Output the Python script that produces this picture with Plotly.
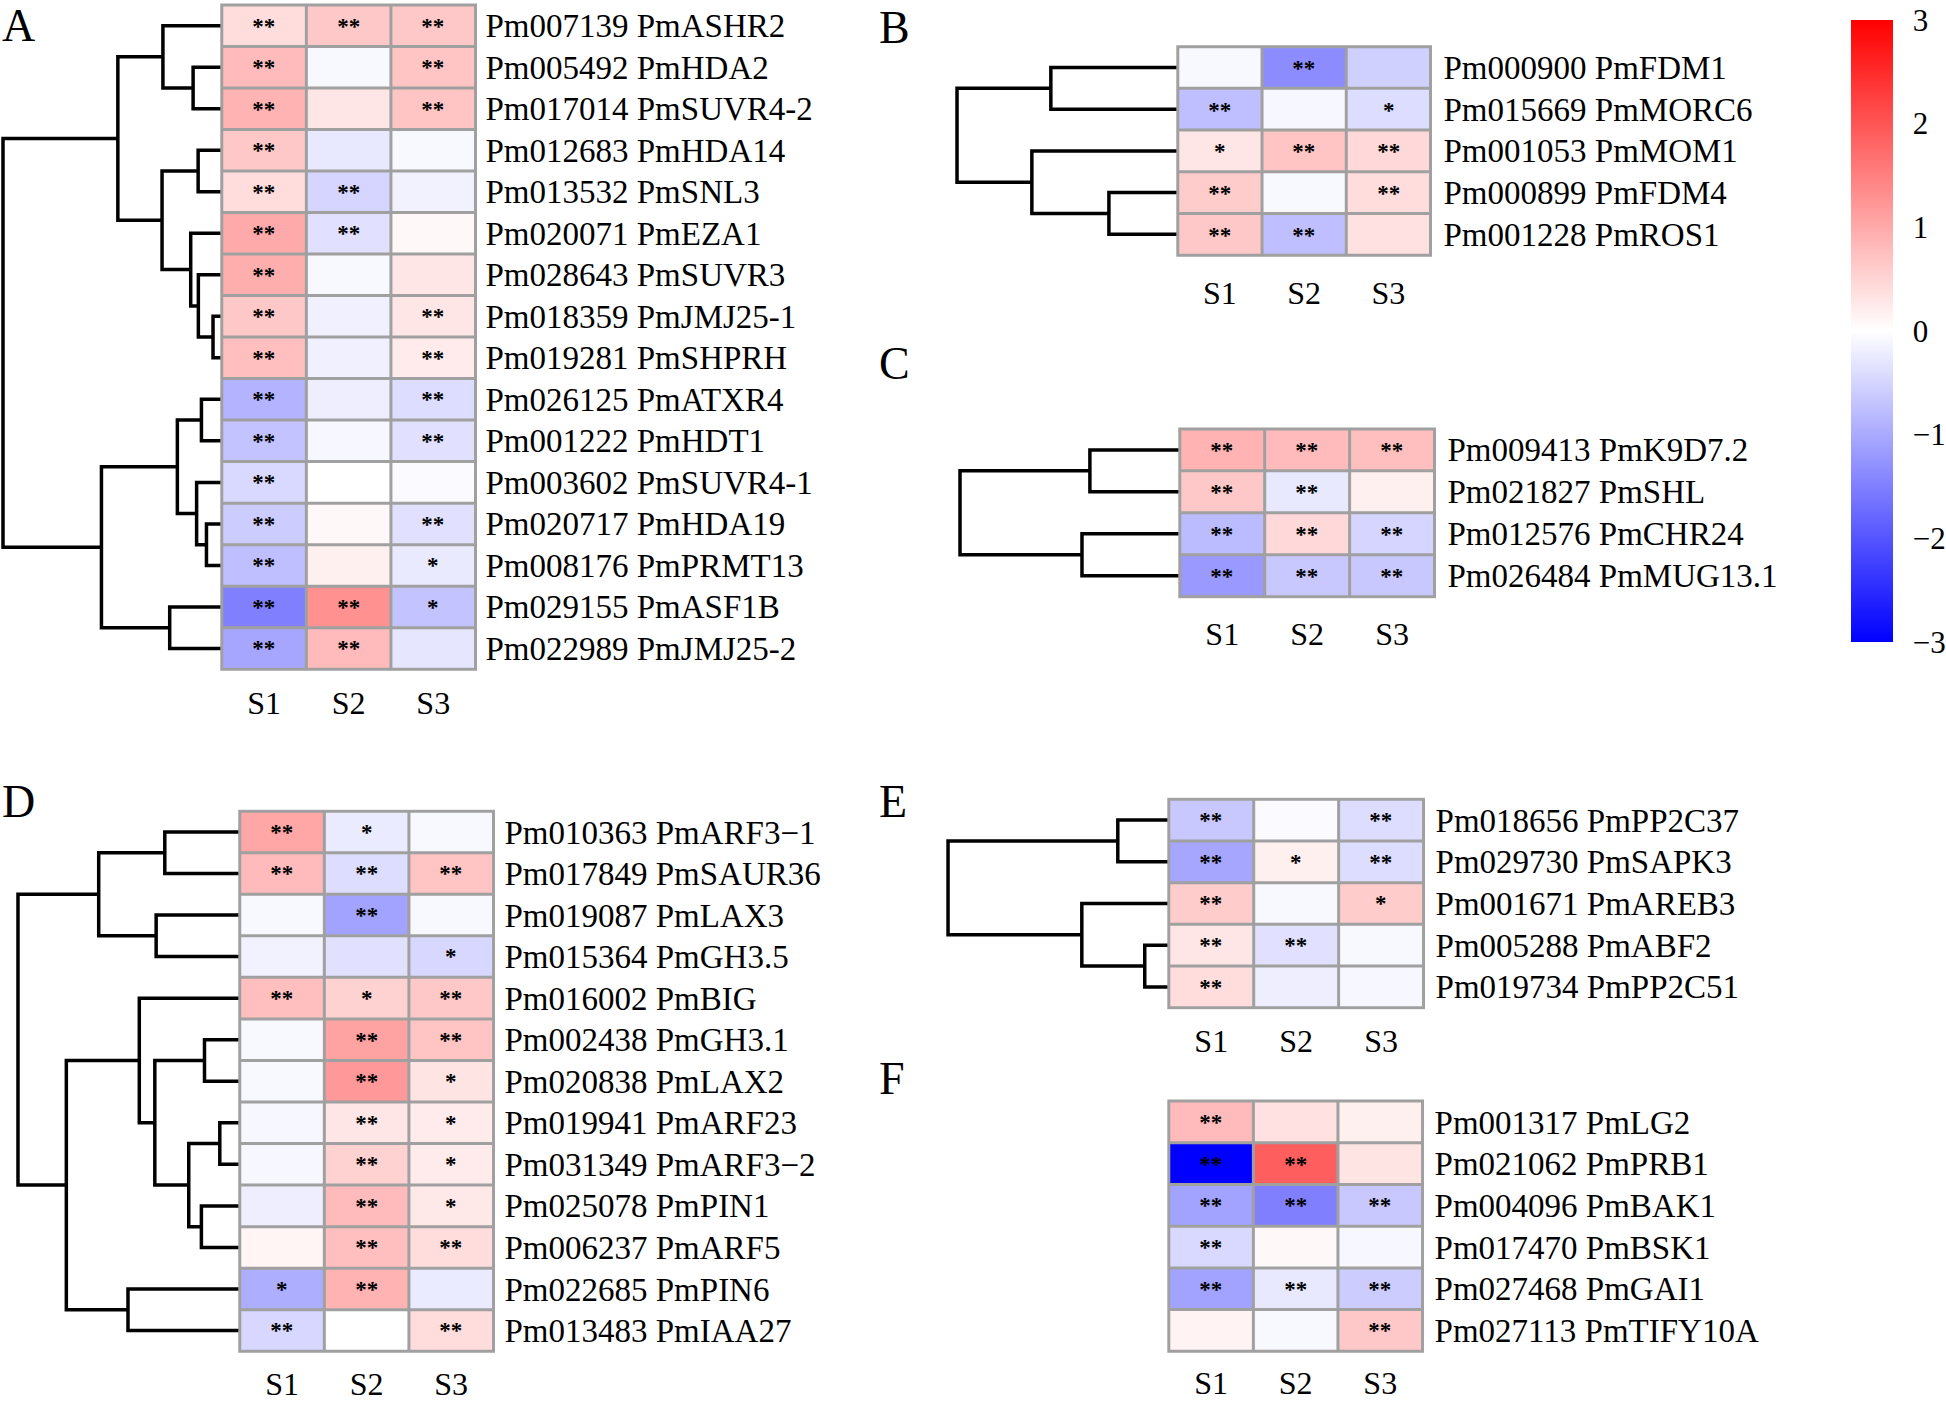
import plotly.graph_objects as go

W, H = 1946, 1402
FONT = "Liberation Serif, Times New Roman, serif"
GRID = "#a0a0a0"
CS = [[0, "#0000ff"], [0.5, "#ffffff"], [1, "#ff0000"]]
samples = ["S1", "S2", "S3"]

# ---------------- data ----------------
a_genes = ["Pm007139 PmASHR2", "Pm005492 PmHDA2", "Pm017014 PmSUVR4-2", "Pm012683 PmHDA14",
           "Pm013532 PmSNL3", "Pm020071 PmEZA1", "Pm028643 PmSUVR3", "Pm018359 PmJMJ25-1",
           "Pm019281 PmSHPRH", "Pm026125 PmATXR4", "Pm001222 PmHDT1", "Pm003602 PmSUVR4-1",
           "Pm020717 PmHDA19", "Pm008176 PmPRMT13", "Pm029155 PmASF1B", "Pm022989 PmJMJ25-2"]
a_s1 = [0.40, 0.80, 0.90, 0.65, 0.40, 1.00, 0.95, 0.65, 0.75, -0.90, -0.70, -0.45, -0.60, -0.75, -1.50, -1.05]
a_s2 = [0.65, -0.08, 0.30, -0.27, -0.50, -0.35, -0.08, -0.18, -0.18, -0.20, -0.10, 0.00, 0.08, 0.18, 1.30, 0.80]
a_s3 = [0.65, 0.70, 0.70, -0.08, -0.15, 0.08, 0.30, 0.30, 0.23, -0.40, -0.35, -0.05, -0.35, -0.25, -0.70, -0.30]
a_sig1 = ["**"] * 16
a_sig2 = ["**", "", "", "", "**", "**", "", "", "", "", "", "", "", "", "**", "**"]
a_sig3 = ["**", "**", "**", "", "", "", "", "**", "**", "**", "**", "", "**", "*", "*", ""]
# linkage: (child, child, height); leaves 0..n-1, new nodes n, n+1, ...
a_links = [(1, 2, 0.131), (0, 16, 0.269), (3, 4, 0.108), (7, 8, 0.040), (6, 19, 0.107),
           (5, 20, 0.142), (18, 21, 0.273), (17, 22, 0.475), (9, 10, 0.093), (12, 13, 0.070),
           (11, 25, 0.115), (24, 26, 0.203), (14, 15, 0.238), (27, 28, 0.550), (23, 29, 1.0)]

b_genes = ["Pm000900 PmFDM1", "Pm015669 PmMORC6", "Pm001053 PmMOM1", "Pm000899 PmFDM4", "Pm001228 PmROS1"]
b_s1 = [-0.08, -0.75, 0.30, 0.60, 0.65]
b_s2 = [-1.35, -0.10, 0.70, -0.08, -0.75]
b_s3 = [-0.55, -0.40, 0.45, 0.40, 0.35]
b_sig1 = ["", "**", "*", "**", "**"]
b_sig2 = ["**", "", "**", "", "**"]
b_sig3 = ["", "*", "**", "**", ""]
b_links = [(0, 1, 0.575), (3, 4, 0.312), (2, 6, 0.661), (5, 7, 1.0)]

c_genes = ["Pm009413 PmK9D7.2", "Pm021827 PmSHL", "Pm012576 PmCHR24", "Pm026484 PmMUG13.1"]
c_s1 = [0.90, 0.65, -0.80, -1.20]
c_s2 = [0.80, -0.27, 0.45, -0.65]
c_s3 = [0.75, 0.18, -0.50, -0.65]
c_sig1 = ["**", "**", "**", "**"]
c_sig2 = ["**", "**", "**", "**"]
c_sig3 = ["**", "", "**", "**"]
c_links = [(0, 1, 0.409), (2, 3, 0.445), (4, 5, 1.0)]

d_genes = ["Pm010363 PmARF3\u22121", "Pm017849 PmSAUR36", "Pm019087 PmLAX3", "Pm015364 PmGH3.5",
           "Pm016002 PmBIG", "Pm002438 PmGH3.1", "Pm020838 PmLAX2", "Pm019941 PmARF23",
           "Pm031349 PmARF3\u22122", "Pm025078 PmPIN1", "Pm006237 PmARF5", "Pm022685 PmPIN6",
           "Pm013483 PmIAA27"]
d_s1 = [1.05, 0.80, -0.08, -0.15, 0.75, -0.08, -0.08, -0.10, -0.10, -0.20, 0.12, -0.95, -0.47]
d_s2 = [-0.23, -0.40, -1.10, -0.35, 0.53, 1.10, 1.20, 0.30, 0.53, 0.80, 0.75, 0.90, 0.00]
d_s3 = [-0.08, 0.70, -0.08, -0.47, 0.65, 0.70, 0.32, 0.23, 0.23, 0.27, 0.40, -0.23, 0.40]
d_sig1 = ["**", "**", "", "", "**", "", "", "", "", "", "", "*", "**"]
d_sig2 = ["*", "**", "**", "", "*", "**", "**", "**", "**", "**", "**", "**", ""]
d_sig3 = ["", "**", "", "*", "**", "**", "*", "*", "*", "*", "**", "", "**"]
d_links = [(0, 1, 0.338), (2, 3, 0.377), (13, 14, 0.636), (5, 6, 0.159), (7, 8, 0.090),
           (9, 10, 0.173), (17, 18, 0.230), (16, 19, 0.383), (4, 20, 0.453), (11, 12, 0.504),
           (21, 22, 0.782), (15, 23, 1.0)]

e_genes = ["Pm018656 PmPP2C37", "Pm029730 PmSAPK3", "Pm001671 PmAREB3", "Pm005288 PmABF2", "Pm019734 PmPP2C51"]
e_s1 = [-0.65, -1.05, 0.60, 0.30, 0.40]
e_s2 = [-0.05, 0.18, -0.08, -0.35, -0.20]
e_s3 = [-0.40, -0.40, 0.60, -0.08, -0.10]
e_sig1 = ["**", "**", "**", "**", "**"]
e_sig2 = ["", "*", "", "**", ""]
e_sig3 = ["**", "**", "*", "", ""]
e_links = [(0, 1, 0.231), (3, 4, 0.109), (2, 6, 0.394), (5, 7, 1.0)]

f_genes = ["Pm001317 PmLG2", "Pm021062 PmPRB1", "Pm004096 PmBAK1", "Pm017470 PmBSK1",
           "Pm027468 PmGAI1", "Pm027113 PmTIFY10A"]
f_s1 = [0.80, -3.00, -1.10, -0.45, -1.10, 0.14]
f_s2 = [0.35, 1.90, -1.50, 0.08, -0.27, -0.08]
f_s3 = [0.18, 0.32, -0.65, -0.10, -0.60, 0.65]
f_sig1 = ["**", "**", "**", "**", "**", ""]
f_sig2 = ["", "**", "**", "", "**", ""]
f_sig3 = ["", "", "**", "", "**", "**"]

cbar_ticks = [-3, -2, -1, 0, 1, 2, 3]

# ---------------- layout geometry (pixels) ----------------
GEOM = {
    "A": dict(box=(222, 476, 5, 674), root=3, xs=10, ys=7, letter=(0, 26)),
    "B": dict(box=(1179, 1432, 47, 257), root=958, xs=14, ys=10, letter=(878, 28)),
    "C": dict(box=(1181, 1436, 432, 601), root=961, xs=13, ys=10, letter=(878, 366)),
    "D": dict(box=(240, 494, 817, 1361), root=18, xs=9, ys=8, letter=(0, 807)),
    "E": dict(box=(1170, 1425, 805, 1015), root=949, xs=9, ys=9, letter=(878, 807)),
    "F": dict(box=(1170, 1424, 1109, 1361), root=None, xs=8, ys=9, letter=(878, 1086)),
}
PAD = 2

fig = go.Figure()
layout = {}
shapes = []
annotations = []
counter = [0]


def fx(px):
    return px / W


def fy(py):
    return 1 - py / H


def axis_names():
    counter[0] += 1
    k = counter[0]
    s = "" if k == 1 else str(k)
    return "x" + s, "y" + s, "xaxis" + s, "yaxis" + s


def add_panel(key, genes, cols, sigs, links, show_scale=False):
    g = GEOM[key]
    x0, x1, y0, y1 = g["box"]
    n = len(genes)
    cw = (x1 - x0) / 3.0
    rh = (y1 - y0) / n
    xa, ya, xk, yk = axis_names()
    z = [list(r) for r in zip(*cols)]
    txt = [list(r) for r in zip(*sigs)]
    hm = dict(z=z, x=[0, 1, 2], y=list(range(n)), text=txt, texttemplate="%{text}",
              textfont=dict(size=23, color="black", family=FONT, weight="bold"),
              colorscale=CS, zmin=-3, zmax=3, showscale=show_scale,
              xaxis=xa, yaxis=ya, hoverinfo="skip")
    if show_scale:
        hm["colorbar"] = dict(x=fx(1853), xanchor="left", xref="paper",
                              y=fy(20), yanchor="top", yref="paper",
                              len=(646 - 20) / H, lenmode="fraction",
                              thickness=42, thicknessmode="pixels",
                              xpad=0, ypad=0, outlinewidth=0,
                              tickvals=cbar_ticks, ticks="outside", ticklen=14,
                              tickcolor="rgba(0,0,0,0)",
                              tickfont=dict(size=31, family=FONT, color="black"))
    fig.add_trace(go.Heatmap(**hm))
    yr = [n - 0.5 + PAD / rh, -0.5 - PAD / rh]
    ydom = [fy(y1 + PAD), fy(y0 - PAD)]
    layout[xk] = dict(domain=[fx(x0 - PAD), fx(x1 + PAD)], range=[-0.5 - PAD / cw, 2.5 + PAD / cw],
                      anchor=ya, tickvals=[0, 1, 2], ticktext=samples, ticks="",
                      showgrid=False, zeroline=False, showline=False,
                      ticklabelstandoff=g["xs"],
                      tickfont=dict(size=32, family=FONT, color="black"), fixedrange=True)
    layout[yk] = dict(domain=ydom, range=yr, anchor=xa, side="right",
                      tickvals=list(range(n)), ticktext=genes, ticks="",
                      showgrid=False, zeroline=False, showline=False,
                      ticklabelstandoff=g["ys"],
                      tickfont=dict(size=33, family=FONT, color="black"), fixedrange=True)
    # cell borders
    shapes.append(dict(type="rect", xref=xa, yref=ya, x0=-0.5, x1=2.5, y0=-0.5, y1=n - 0.5,
                       line=dict(color=GRID, width=3), layer="above"))
    for i in range(1, n):
        shapes.append(dict(type="line", xref=xa, yref=ya, x0=-0.5, x1=2.5, y0=i - 0.5, y1=i - 0.5,
                           line=dict(color=GRID, width=3), layer="above"))
    for j in range(1, 3):
        shapes.append(dict(type="line", xref=xa, yref=ya, x0=j - 0.5, x1=j - 0.5, y0=-0.5, y1=n - 0.5,
                           line=dict(color=GRID, width=3), layer="above"))

    # dendrogram
    if links:
        dxa, dya, dxk, dyk = axis_names()
        pos = {i: float(i) for i in range(n)}
        hgt = {i: 0.0 for i in range(n)}
        lx, ly = [], []
        for k, (a, b, h) in enumerate(links):
            node = n + k
            lx += [hgt[a], h, h, hgt[b], None]
            ly += [pos[a], pos[a], pos[b], pos[b], None]
            pos[node] = (pos[a] + pos[b]) / 2.0
            hgt[node] = h
        fig.add_trace(go.Scatter(x=lx, y=ly, mode="lines", xaxis=dxa, yaxis=dya,
                                 line=dict(color="black", width=3.5), hoverinfo="skip",
                                 showlegend=False))
        root = g["root"]
        span = x0 - root
        rootmax = max(h for _, _, h in links)
        layout[dxk] = dict(domain=[fx(root - 3), fx(x0)], range=[rootmax * (1 + 3.0 / span), 0],
                           anchor=dya, visible=False, fixedrange=True)
        layout[dyk] = dict(domain=ydom, range=yr, anchor=dxa, visible=False, fixedrange=True)

    lx0, ly0 = g["letter"]
    annotations.append(dict(text=key, x=fx(lx0), y=fy(ly0), xref="paper", yref="paper",
                            xanchor="left", yanchor="middle", showarrow=False,
                            font=dict(size=46, family=FONT, color="black")))


add_panel("A", a_genes, [a_s1, a_s2, a_s3], [a_sig1, a_sig2, a_sig3], a_links, show_scale=True)
add_panel("B", b_genes, [b_s1, b_s2, b_s3], [b_sig1, b_sig2, b_sig3], b_links)
add_panel("C", c_genes, [c_s1, c_s2, c_s3], [c_sig1, c_sig2, c_sig3], c_links)
add_panel("D", d_genes, [d_s1, d_s2, d_s3], [d_sig1, d_sig2, d_sig3], d_links)
add_panel("E", e_genes, [e_s1, e_s2, e_s3], [e_sig1, e_sig2, e_sig3], e_links)
add_panel("F", f_genes, [f_s1, f_s2, f_s3], [f_sig1, f_sig2, f_sig3], None)

fig.update_layout(width=W, height=H, autosize=False,
                  margin=dict(l=0, r=0, t=0, b=0, pad=0),
                  paper_bgcolor="white", plot_bgcolor="white",
                  showlegend=False, shapes=shapes, annotations=annotations,
                  font=dict(family=FONT, color="black"), **layout)

fig.write_html("out.html", config={"displayModeBar": False},
               post_script="document.body.style.margin='0';document.body.style.overflow='hidden';")
